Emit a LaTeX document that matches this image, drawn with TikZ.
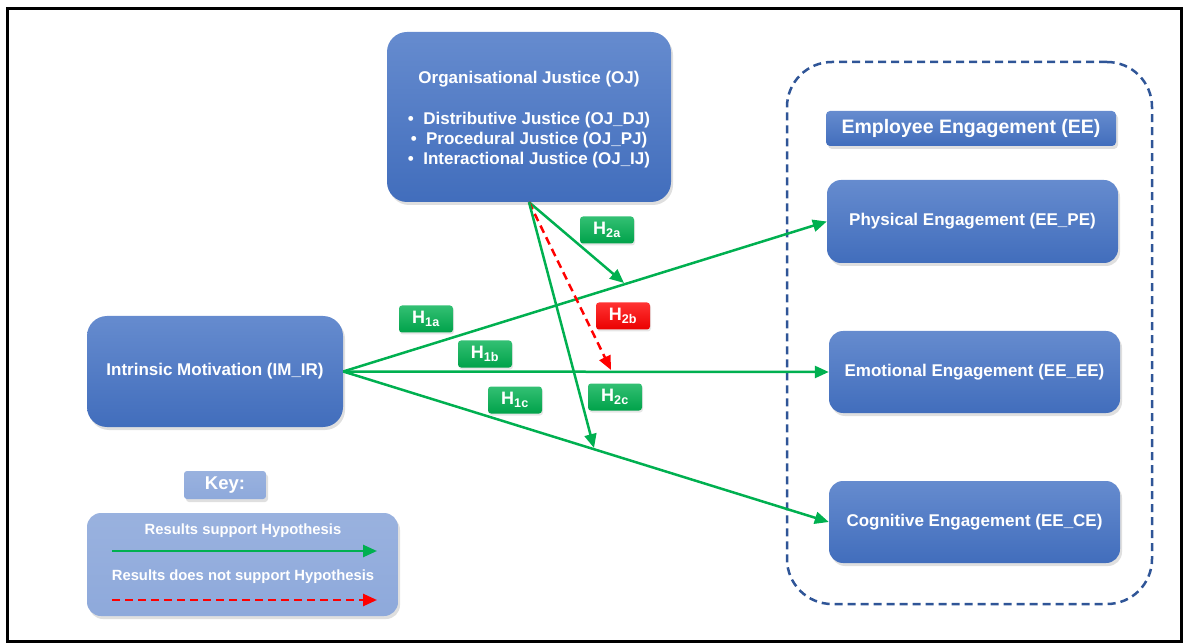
\documentclass[tikz,border=0pt]{standalone}
\usepackage{fontspec}
\setmainfont{Liberation Sans}
\usepackage{xcolor}
\usepackage{tikz}
\usetikzlibrary{arrows.meta,shadows}

\definecolor{boxblue}{HTML}{4472C4}
\definecolor{keyblue}{HTML}{8EA9DB}
\definecolor{grpblue}{HTML}{2F5597}
\definecolor{hypgreen}{HTML}{00B050}
\definecolor{hypred}{HTML}{FF0000}

\tikzset{
    mainbox/.style={rectangle,rounded corners=20pt,top color=boxblue!82!white,middle color=boxblue,bottom color=boxblue!96!black,
        drop shadow={opacity=0.25,shadow xshift=2pt,shadow yshift=-3pt},text=white,align=center,
        font=\fontsize{17}{20}\selectfont\bfseries},
    keybox/.style={rectangle,rounded corners=14pt,top color=keyblue!90!white,bottom color=keyblue,
        drop shadow={opacity=0.25,shadow xshift=2pt,shadow yshift=-3pt}},
    hyplabel/.style={rectangle,rounded corners=3pt,top color=#1!80!white,bottom color=#1!92!black,
        drop shadow={opacity=0.2,shadow xshift=1pt,shadow yshift=-2pt},text=white,inner sep=0pt,
        minimum width=54pt,minimum height=27pt,font=\fontsize{18}{18}\selectfont\bfseries},
    supp/.style={draw=hypgreen,line width=2.5pt,-{Triangle[length=14pt,width=12pt]}},
    nosupp/.style={draw=hypred,line width=2.5pt,dash pattern=on 8pt off 5pt,-{Triangle[length=14pt,width=12pt]}}
}

\begin{document}
\begin{tikzpicture}[x=1pt,y=-1pt]
    \useasboundingbox (0,0) rectangle (1189,644);
    \draw[line width=3pt] (7.5,8.5) rectangle (1181.5,641.5);

    \coordinate (h2aend) at (624,283);
    \coordinate (h2bend) at (611,370);
    \coordinate (h2cend) at (594,448);
    \coordinate (ks1) at (112,551);
    \coordinate (ke1) at (377,551);
    \coordinate (ks2) at (112,600);
    \coordinate (ke2) at (377,600);

    \node[draw=grpblue,line width=2.5pt,dash pattern=on 8pt off 5pt,rounded corners=45pt,
        minimum width=365pt,minimum height=542pt] (grp) at (969.5,333) {};

    \node[mainbox,minimum width=284pt,minimum height=170pt] (OJ) at (529,117)
        {\rule{0pt}{17pt}Organisational Justice (OJ)\\[21pt]
         \textbullet\ \ Distributive Justice (OJ\_DJ)\\
         \textbullet\ \ Procedural Justice (OJ\_PJ)\\
         \textbullet\ \ Interactional Justice (OJ\_IJ)};
    \node[mainbox,minimum width=256pt,minimum height=111pt] (IM) at (215,371.5) {\raisebox{-2pt}{Intrinsic Motivation (IM\_IR)}};
    \node[mainbox,rounded corners=4pt,minimum width=290pt,minimum height=35pt,
        font=\fontsize{19.5}{20}\selectfont\bfseries] (EEt) at (971,128.5) {Employee Engagement (EE)};
    \node[mainbox,rounded corners=14pt,minimum width=291pt,minimum height=83pt] (PE) at (972.5,221.5) {\raisebox{-2pt}{Physical Engagement (EE\_PE)}};
    \node[mainbox,rounded corners=14pt,minimum width=291pt,minimum height=82pt] (EE) at (974.5,372) {\raisebox{-2pt}{Emotional Engagement (EE\_EE)}};
    \node[mainbox,rounded corners=14pt,minimum width=291pt,minimum height=82pt] (CE) at (974.5,522) {\raisebox{-2pt}{Cognitive Engagement (EE\_CE)}};

    \node[keybox,rounded corners=3pt,minimum width=82pt,minimum height=28pt,text=white,
        font=\fontsize{18.5}{19}\selectfont\bfseries] (keyt) at (225,485) {Key:};
    \node[keybox,minimum width=311pt,minimum height=103pt] (keyb) at (242.5,564.5) {};
    \node[text=white,font=\fontsize{14.8}{15}\selectfont\bfseries] (k1) at (243,531) {Results support Hypothesis};
    \node[text=white,font=\fontsize{14.8}{15}\selectfont\bfseries] (k2) at (243,577) {Results does not support Hypothesis};
    \draw[supp] (ks1) -- (ke1);
    \draw[nosupp] (ks2) -- (ke2);

    \draw[supp] (IM.east) -- (PE.west);
    \draw[supp] (IM.east) -- (EE.west);
    \draw[supp] (IM.east) -- (CE.west);
    \draw[supp] (OJ.south) -- (h2aend);
    \draw[nosupp] (OJ.south) -- (h2bend);
    \draw[supp] (OJ.south) -- (h2cend);

    \node[hyplabel=hypgreen] (H1a) at (426,319) {H\textsubscript{1a}};
    \node[hyplabel=hypgreen] (H1b) at (485,354) {H\textsubscript{1b}};
    \node[hyplabel=hypgreen] (H1c) at (515,400) {H\textsubscript{1c}};
    \node[hyplabel=hypgreen] (H2a) at (607,230) {H\textsubscript{2a}};
    \node[hyplabel=hypred] (H2b) at (623,316) {H\textsubscript{2b}};
    \node[hyplabel=hypgreen] (H2c) at (615,397) {H\textsubscript{2c}};
\end{tikzpicture}
\end{document}
